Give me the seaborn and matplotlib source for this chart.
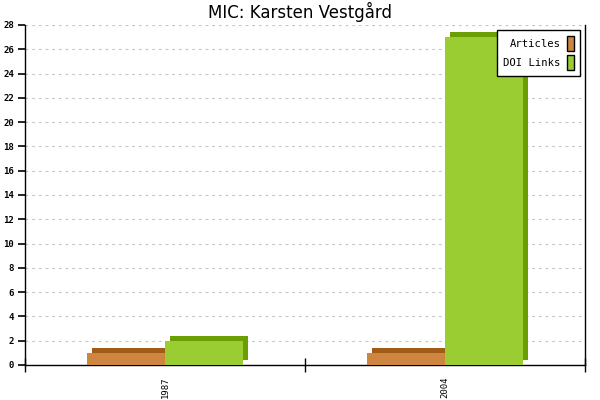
import pandas as pd
import matplotlib
matplotlib.use("Agg")
import matplotlib.pyplot as plt
import matplotlib.transforms as mtransforms
from matplotlib.patches import Rectangle, Patch
import seaborn as sns

# data
years = ["1987", "2004"]
articles = [1, 1]
doi_links = [2, 27]

series = ["Articles", "DOI Links"]
front_colors = {"Articles": "#CD853F", "DOI Links": "#9ACD32"}
side_colors = {"Articles": "#A25A17", "DOI Links": "#6B9E00"}

df = pd.DataFrame({
    "year": years * 2,
    "series": ["Articles"] * len(years) + ["DOI Links"] * len(years),
    "count": articles + doi_links,
})

sns.set_style("ticks")
mono = "DejaVu Sans Mono"

fig = plt.figure(figsize=(6, 4), dpi=100)
ax = fig.add_axes([25 / 600, 35 / 400, 560 / 600, 340 / 400])

sns.barplot(data=df, x="year", y="count", hue="series", palette=front_colors,
            hue_order=series, saturation=1, width=0.56, linewidth=0,
            legend=False, ax=ax, zorder=3)

# fake 3d depth: shifted darker copy behind each bar
shift = mtransforms.offset_copy(ax.transData, fig=fig, x=5, y=5, units="dots")
for i, cont in enumerate(ax.containers):
    for p in cont.patches:
        if p.get_height() <= 0:
            continue
        ax.add_patch(Rectangle((p.get_x(), 0), p.get_width(), p.get_height(),
                               transform=shift, color=side_colors[series[i]],
                               linewidth=0, zorder=2, clip_on=False))

ax.set_xlim(-0.5, len(years) - 0.5)
ax.set_ylim(0, 28)
ax.set_yticks(range(0, 29, 2))
ax.yaxis.grid(True, linestyle=(0, (2.5, 3.5)), color="#c4c4c4", linewidth=0.8, zorder=0)
ax.set_axisbelow(True)
ax.set_xlabel("")
ax.set_ylabel("")

# category boundary ticks on x, labels at centres
ax.set_xticks([i - 0.5 for i in range(len(years) + 1)], minor=True)
ax.tick_params(axis="x", which="minor", bottom=True, direction="inout", length=10,
               width=1, color="black")
ax.tick_params(axis="x", which="major", bottom=True, length=0, pad=8, labelcolor="black")
ax.set_xticks(range(len(years)))
ax.set_xticklabels(years, rotation=90, fontsize=6.5, family=mono)
ax.tick_params(axis="y", which="major", left=True, direction="out", length=5, width=1.2,
               color="black", pad=3, labelcolor="black")
for lbl in ax.get_yticklabels():
    lbl.set_fontsize(6.5)
    lbl.set_family(mono)
    lbl.set_fontweight("bold")

for s in ["left", "bottom", "right"]:
    ax.spines[s].set_visible(True)
    ax.spines[s].set_color("black")
    ax.spines[s].set_linewidth(1)
ax.spines["top"].set_visible(False)

handles = [Patch(facecolor=front_colors[s], edgecolor="black", linewidth=1) for s in series]
leg = ax.legend(handles, series, loc="upper right", bbox_to_anchor=(0.991, 0.985),
                borderaxespad=0, markerfirst=False, handlelength=0.7, handleheight=1.8,
                handletextpad=0.6, borderpad=0.55, labelspacing=0.4,
                fancybox=False, framealpha=1, edgecolor="black",
                prop={"family": mono, "size": 7.6})
leg.get_frame().set_linewidth(1)
leg.set_zorder(5)
for t in leg.get_texts():
    t.set_color("black")

fig.text(0.5, 0.97, "MIC: Karsten Vestgård", ha="center", va="center",
         fontsize=12, color="black")

fig.savefig("out.png", dpi=100)
